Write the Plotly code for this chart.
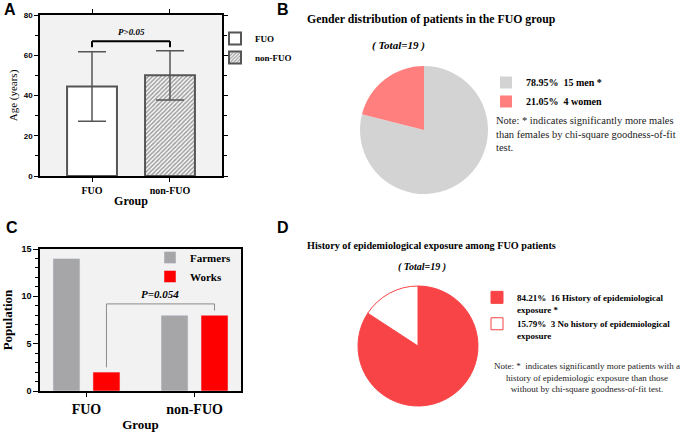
import plotly.graph_objects as go

W, H = 685, 436
SERIF = "Liberation Serif, Times New Roman, serif"
SANS = "Liberation Sans, Arial, sans-serif"

# Panel A: age by group (mean and SD)
age_groups = ["FUO", "non-FUO"]
age_mean = [44.5, 50.0]
age_sd = [17.3, 12.2]
age_ticks = [0, 20, 40, 60, 80]

# Panel B: gender within the FUO group
gender_labels = ["men *", "women"]
gender_counts = [15, 4]
gender_colors = ["#d3d3d3", "#ff7f7f"]

# Panel C: occupation by group
occ_groups = ["FUO", "non-FUO"]
farmers = [14, 8]
works = [2, 8]
occ_ticks = [0, 5, 10, 15]

# Panel D: epidemiological exposure within the FUO group
exposure_labels = ["History of epidemiological<br>exposure *",
                   "No history of epidemiological<br>exposure"]
exposure_counts = [16, 3]
exposure_colors = ["#f84446", "#ffffff"]


def px(x):
    return x / W


def py(y):
    return 1 - y / H


def pie_labels(labels, counts):
    total = sum(counts)
    return [f"{c / total * 100:.2f}%\u00a0\u00a0{c} {lab}" for lab, c in zip(labels, counts)]


fig = go.Figure()

# --- A ---
fig.add_trace(go.Bar(
    x=[age_groups[0]], y=[age_mean[0]], name="FUO", width=0.64, offset=-0.32,
    marker=dict(color="white", line=dict(color="#555555", width=2)),
    error_y=dict(type="data", array=[age_sd[0]], color="#555555", thickness=1.5, width=14),
    xaxis="x", yaxis="y", legend="legend", legendgroup="a1",
))
fig.add_trace(go.Bar(
    x=[age_groups[1]], y=[age_mean[1]], name="non-FUO", width=0.64, offset=-0.32,
    marker=dict(color="white", line=dict(color="#555555", width=2),
                pattern=dict(shape="/", fgcolor="#444444", bgcolor="white", size=3, solidity=0.55)),
    error_y=dict(type="data", array=[age_sd[1]], color="#555555", thickness=1.5, width=14),
    xaxis="x", yaxis="y", legend="legend", legendgroup="a2",
))

# --- C ---
fig.add_trace(go.Bar(
    x=occ_groups, y=farmers, name="Farmers", width=0.25, offset=-0.31,
    marker=dict(color="#a6a6a9"), xaxis="x2", yaxis="y2", legend="legend2", legendgroup="c1",
))
fig.add_trace(go.Bar(
    x=occ_groups, y=works, name="Works", width=0.25, offset=0.06,
    marker=dict(color="#ff0000"), xaxis="x2", yaxis="y2", legend="legend2", legendgroup="c2",
))

# --- B ---
fig.add_trace(go.Pie(
    labels=pie_labels(gender_labels, gender_counts), values=gender_counts,
    marker=dict(colors=gender_colors, line=dict(width=0)),
    sort=False, direction="clockwise", rotation=0, textinfo="none", hoverinfo="label",
    domain=dict(x=[px(360), px(488)], y=[py(194), py(66)]), legend="legend3",
))

# --- D ---
fig.add_trace(go.Pie(
    labels=pie_labels(exposure_labels, exposure_counts), values=exposure_counts,
    marker=dict(colors=exposure_colors, line=dict(color="#f84446", width=1)),
    sort=False, direction="clockwise", rotation=0, textinfo="none", hoverinfo="label",
    domain=dict(x=[px(358), px(478)], y=[py(406), py(286)]), legend="legend4",
))

# significance brackets
bracket_a = dict(type="line", xref="x", yref="y", line=dict(color="black", width=2))
fig.add_shape(x0=0, x1=1, y0=67, y1=67, **bracket_a)
fig.add_shape(x0=0, x1=0, y0=64, y1=67, **bracket_a)
fig.add_shape(x0=1, x1=1, y0=64, y1=67, **bracket_a)

bracket_c = dict(type="line", xref="x2", yref="y2", line=dict(color="#8a8a8a", width=1))
fig.add_shape(x0=0.185, x1=1.185, y0=9.2, y1=9.2, **bracket_c)
fig.add_shape(x0=0.185, x1=0.185, y0=2.5, y1=9.2, **bracket_c)
fig.add_shape(x0=1.185, x1=1.185, y0=8.5, y1=9.2, **bracket_c)

ann = []
ann.append(dict(text="<b><i>P>0.05</i></b>", x=0.5, y=67, xref="x", yref="y", yanchor="bottom",
                yshift=2, showarrow=False, font=dict(family=SERIF, size=9, color="black")))
ann.append(dict(text="<b><i>P=0.054</i></b>", x=0.685, y=9.2, xref="x2", yref="y2", yanchor="bottom",
                yshift=2, showarrow=False, font=dict(family=SERIF, size=11, color="black")))

# panel letters
for letter, lx, ly in [("A", 10, 9), ("B", 283, 9), ("C", 12, 227), ("D", 283, 227)]:
    ann.append(dict(text=f"<b>{letter}</b>", x=px(lx), y=py(ly), xref="paper", yref="paper",
                    xanchor="center", yanchor="middle", showarrow=False,
                    font=dict(family=SANS, size=16, color="black")))

# pie titles and notes
ann.append(dict(text="<b>Gender distribution of patients in the FUO group</b>", x=px(305), y=py(19),
                xref="paper", yref="paper", xanchor="left", yanchor="middle", showarrow=False,
                font=dict(family=SERIF, size=11.8, color="black")))
ann.append(dict(text="<b><i>( Total=19 )</i></b>", x=px(398), y=py(45), xref="paper", yref="paper",
                xanchor="center", yanchor="middle", showarrow=False,
                font=dict(family=SERIF, size=11, color="black")))
ann.append(dict(text="Note: * indicates significantly more males<br>than females by chi-square goodness-of-fit<br>test.",
                x=px(494), y=py(113), xref="paper", yref="paper", xanchor="left", yanchor="top",
                align="left", showarrow=False, font=dict(family=SERIF, size=10.5, color="#222222")))

ann.append(dict(text="<b>History of epidemiological exposure among FUO patients</b>", x=px(305), y=py(245),
                xref="paper", yref="paper", xanchor="left", yanchor="middle", showarrow=False,
                font=dict(family=SERIF, size=10.2, color="black")))
ann.append(dict(text="<b><i>( Total=19 )</i></b>", x=px(422), y=py(267), xref="paper", yref="paper",
                xanchor="center", yanchor="middle", showarrow=False,
                font=dict(family=SERIF, size=10, color="black")))
ann.append(dict(text="Note: *  indicates significantly more patients with a<br>history of epidemiologic exposure than those<br>without by chi-square goodness-of-fit test.",
                x=px(587), y=py(359), xref="paper", yref="paper", xanchor="center", yanchor="top",
                align="center", showarrow=False, font=dict(family=SERIF, size=9, color="#222222")))

axis_common = dict(showline=True, linecolor="black", linewidth=1.5, ticks="outside",
                   tickcolor="black", showgrid=False, zeroline=False, automargin=False)

legend_common = dict(bgcolor="rgba(0,0,0,0)", borderwidth=0, xanchor="left", yanchor="top",
                     itemclick=False, itemdoubleclick=False)

fig.update_layout(
    width=W, height=H,
    margin=dict(l=0, r=0, t=0, b=0, autoexpand=False),
    paper_bgcolor="white",
    barmode="overlay",
    annotations=ann,
    xaxis=dict(domain=[px(40), px(222)], anchor="y", range=[-0.667, 1.667], mirror="ticks",
               tickfont=dict(family=SERIF, size=10, color="black", weight="bold"), ticklen=4,
               title=dict(text="<b>Group</b>", font=dict(family=SERIF, size=12, color="black"), standoff=2),
               **axis_common),
    yaxis=dict(domain=[py(176), py(15)], anchor="x", range=[0, 80], tickvals=age_ticks, mirror="ticks",
               ticklen=4, minor=dict(dtick=10, ticks="outside", ticklen=3, tickcolor="black"),
               tickfont=dict(family=SANS, size=8, color="black", weight="bold"),
               title=dict(text="Age (years)", font=dict(family=SERIF, size=11, color="black"), standoff=4),
               **axis_common),
    xaxis2=dict(domain=[px(40), px(241)], anchor="y2", range=[-0.43, 1.43], mirror=True, ticklen=4,
                tickfont=dict(family=SERIF, size=14, color="black", weight="bold"),
                title=dict(text="<b>Group</b>", font=dict(family=SERIF, size=13, color="black"), standoff=4),
                **axis_common),
    yaxis2=dict(domain=[py(391), py(249)], anchor="x2", range=[0, 15], tickvals=occ_ticks, mirror=True,
                ticklen=5, minor=dict(dtick=1, ticks="outside", ticklen=3, tickcolor="black"),
                tickfont=dict(family=SANS, size=9, color="black", weight="bold"),
                title=dict(text="<b>Population</b>", font=dict(family=SERIF, size=13, color="black"), standoff=6),
                **axis_common),
    plot_bgcolor="#f2f2f2",
    legend=dict(x=px(215), y=py(24), font=dict(family=SERIF, size=9, color="black", weight="bold"),
                tracegroupgap=0, **legend_common),
    legend2=dict(x=px(150), y=py(243), font=dict(family=SERIF, size=11, color="black", weight="bold"),
                 tracegroupgap=0, **legend_common),
    legend3=dict(x=px(486), y=py(68), font=dict(family=SERIF, size=10, color="black", weight="bold"),
                 tracegroupgap=0, **legend_common),
    legend4=dict(x=px(477), y=py(285), valign="top", tracegroupgap=10,
                 font=dict(family=SERIF, size=9, color="black", weight="bold"), **legend_common),
)

# the page body has a default 8px margin; drop it so the figure sits at the window corner
fig.write_html("out.html", config={"displayModeBar": False},
               post_script="document.body.style.margin='0';")
